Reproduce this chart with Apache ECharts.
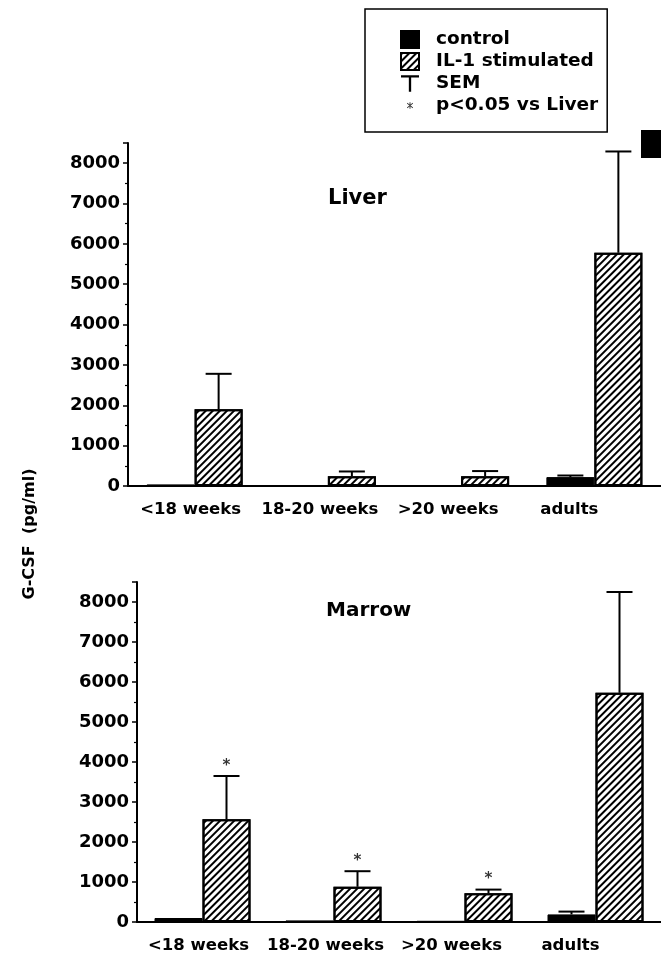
<!DOCTYPE html>
<html>
<head>
<meta charset="utf-8">
<script src="https://cdn.jsdelivr.net/npm/echarts@6/dist/echarts.min.js"></script>
<style>
  html, body { margin: 0; padding: 0; background: #fff; }
  #chart { width: 661px; height: 954px; }
</style>
</head>
<body>
<div id="chart"></div>
<script>
// data (pg/ml)
const categories = ['<18 weeks', '18-20 weeks', '>20 weeks', 'adults'];
const yTicks = [0, 1000, 2000, 3000, 4000, 5000, 6000, 7000, 8000];

const liverControl = [40, 10, 15, 220];
const liverControlSem = [0, 0, 0, 40];
const liverIL1 = [1900, 240, 240, 5780];
const liverIL1Sem = [880, 120, 130, 2510];

const marrowControl = [100, 40, 30, 190];
const marrowControlSem = [0, 0, 0, 70];
const marrowIL1 = [2570, 880, 720, 5730];
const marrowIL1Sem = [1080, 390, 90, 2520];
const marrowSignificant = [true, true, true, false];

// styling
const FONT = 'DejaVu Sans';
const BAR_W = 48;
const CAP = 26;
const labelShift = [4, 8, 13, 25];

const chart = echarts.init(document.getElementById('chart'));

const hatch = {
  color: '#fff',
  borderColor: '#000',
  borderWidth: 2,
  decal: {
    symbol: 'rect',
    symbolSize: 1,
    color: '#000',
    dashArrayX: [1, 0],
    dashArrayY: [1.1, 2.1],
    rotation: -Math.PI / 4
  }
};

function semRows(means, sems, side) {
  return means.map((m, i) => [i, m, sems[i], side]);
}

function renderSem(params, api) {
  const sem = api.value(2);
  if (!sem) return;
  const i = api.value(0);
  const mean = api.value(1);
  const dx = api.value(3) * BAR_W / 2;
  const p0 = api.coord([i, mean]);
  const p1 = api.coord([i, mean + sem]);
  const x = p0[0] + dx;
  return {
    type: 'group',
    children: [
      { type: 'line', shape: { x1: x, y1: p0[1], x2: x, y2: p1[1] }, style: { stroke: '#000', lineWidth: 2 } },
      { type: 'line', shape: { x1: x - CAP / 2, y1: p1[1], x2: x + CAP / 2, y2: p1[1] }, style: { stroke: '#000', lineWidth: 2 } }
    ]
  };
}

const xData = categories.map((c, i) => ({ value: c, textStyle: { padding: [0, labelShift[i] * 2, 0, 0] } }));

function xAxisOf(gridIndex) {
  return {
    type: 'category',
    gridIndex: gridIndex,
    data: xData,
    axisLine: { lineStyle: { color: '#000', width: 2 } },
    axisTick: { show: false },
    axisLabel: {
      interval: 0, hideOverlap: false,
      color: '#000', fontFamily: FONT, fontWeight: 'bold', fontSize: 16.5, margin: 15
    }
  };
}

function yAxisOf(gridIndex) {
  return {
    type: 'value',
    gridIndex: gridIndex,
    min: 0,
    max: 8500,
    interval: 1000,
    axisLine: { show: true, lineStyle: { color: '#000', width: 2 } },
    axisTick: { show: true, length: 5, lineStyle: { color: '#000', width: 1.5 } },
    minorTick: { show: true, splitNumber: 2, length: 3, lineStyle: { color: '#000', width: 1.2 } },
    splitLine: { show: false },
    axisLabel: {
      color: '#000', fontFamily: FONT, fontWeight: 'bold', fontSize: 18, margin: 8,
      showMaxLabel: false,
      formatter: v => (yTicks.indexOf(v) >= 0 ? String(v) : '')
    }
  };
}

const asterisk = 'path://M-8,-8 L-7.98,-8 L-8,-7.98 Z M18,18 L17.98,18 L18,17.98 Z ' +
  'M4.3,0 H5.7 V10 H4.3 Z M0.3,1.9 L1,0.7 L9.7,8.1 L9,9.3 Z M0.3,8.1 L9,0.7 L9.7,1.9 L1,9.3 Z';
const tee = 'path://M0,0 H14 V1.8 H7.9 V13 H6.1 V1.8 H0 Z';

const option = {
  animation: false,
  backgroundColor: '#fff',
  title: [
    { text: 'Liver', left: 328, top: 188, padding: 0,
      textStyle: { fontFamily: FONT, fontWeight: 'bold', fontSize: 21, color: '#000' } },
    { text: 'Marrow', left: 326, top: 601, padding: 0,
      textStyle: { fontFamily: FONT, fontWeight: 'bold', fontSize: 20, color: '#000' } }
  ],
  legend: {
    left: 365,
    top: 9,
    orient: 'vertical',
    padding: [21, 9, 17, 35],
    itemGap: 3,
    itemWidth: 18,
    itemHeight: 17,
    borderColor: '#000',
    borderWidth: 1.5,
    selectedMode: false,
    textStyle: { fontFamily: FONT, fontWeight: 'bold', fontSize: 18.5, color: '#000', padding: [0, 0, 0, 12] },
    data: [
      { name: 'control', icon: 'rect' },
      { name: 'IL-1 stimulated', icon: 'rect' },
      { name: 'SEM', icon: tee },
      { name: 'p<0.05 vs Liver', icon: asterisk, itemStyle: { color: '#000' } }
    ]
  },
  grid: [
    { left: 128, right: 0, top: 143, bottom: 468 },
    { left: 137, right: 0, top: 582, bottom: 32 }
  ],
  xAxis: [xAxisOf(0), xAxisOf(1)],
  yAxis: [yAxisOf(0), yAxisOf(1)],
  graphic: [
    {
      type: 'text',
      x: 30,
      y: 534,
      rotation: Math.PI / 2,
      style: {
        text: 'G-CSF  (pg/ml)',
        font: 'bold 16px "DejaVu Sans"',
        fill: '#000',
        align: 'center',
        verticalAlign: 'middle'
      }
    },
    { type: 'rect', shape: { x: 641, y: 130, width: 20, height: 28 }, style: { fill: '#000' } }
  ],
  series: [
    {
      name: 'control', type: 'bar', xAxisIndex: 0, yAxisIndex: 0,
      barWidth: BAR_W, barGap: '0%',
      itemStyle: { color: '#000', borderColor: '#000', borderWidth: 1 },
      data: liverControl
    },
    {
      name: 'IL-1 stimulated', type: 'bar', xAxisIndex: 0, yAxisIndex: 0,
      barWidth: BAR_W, barGap: '0%',
      itemStyle: hatch,
      data: liverIL1
    },
    {
      name: 'SEM', type: 'custom', xAxisIndex: 0, yAxisIndex: 0,
      itemStyle: { color: '#000' },
      renderItem: renderSem,
      data: semRows(liverControl, liverControlSem, -1).concat(semRows(liverIL1, liverIL1Sem, 1)),
      z: 5
    },
    {
      name: 'control', type: 'bar', xAxisIndex: 1, yAxisIndex: 1,
      barWidth: BAR_W, barGap: '0%',
      itemStyle: { color: '#000', borderColor: '#000', borderWidth: 1 },
      data: marrowControl
    },
    {
      name: 'IL-1 stimulated', type: 'bar', xAxisIndex: 1, yAxisIndex: 1,
      barWidth: BAR_W, barGap: '0%',
      itemStyle: hatch,
      data: marrowIL1
    },
    {
      name: 'SEM', type: 'custom', xAxisIndex: 1, yAxisIndex: 1,
      itemStyle: { color: '#000' },
      renderItem: renderSem,
      data: semRows(marrowControl, marrowControlSem, -1).concat(semRows(marrowIL1, marrowIL1Sem, 1)),
      z: 5
    },
    {
      name: 'p<0.05 vs Liver', type: 'scatter', xAxisIndex: 1, yAxisIndex: 1,
      symbolSize: 1,
      itemStyle: { color: 'rgba(0,0,0,0)' },
      label: {
        show: true, formatter: '*', position: 'top', distance: 2, offset: [BAR_W / 2, 0],
        color: '#000', fontFamily: FONT, fontWeight: 'bold', fontSize: 15
      },
      data: marrowIL1.map((m, i) => (marrowSignificant[i] ? [i, m + marrowIL1Sem[i]] : null)).filter(d => d),
      z: 6
    }
  ]
};

chart.setOption(option);
</script>
</body>
</html>
